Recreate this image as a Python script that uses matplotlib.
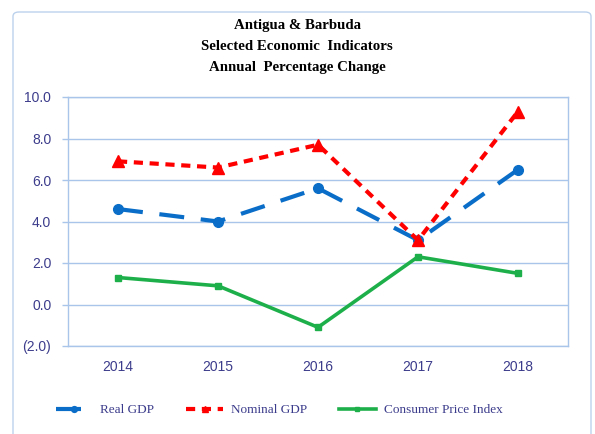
import matplotlib
matplotlib.use("Agg")
import matplotlib.pyplot as plt
from matplotlib.patches import FancyBboxPatch

years = ["2014", "2015", "2016", "2017", "2018"]
real_gdp = [4.6, 4.0, 5.6, 3.1, 6.5]
nominal_gdp = [6.9, 6.6, 7.7, 3.1, 9.3]
cpi = [1.3, 0.9, -1.1, 2.3, 1.5]
yticks = [-2, 0, 2, 4, 6, 8, 10]
ytick_labels = ["(2.0)", "0.0", "2.0", "4.0", "6.0", "8.0", "10.0"]
title_lines = ["Antigua & Barbuda", "Selected Economic  Indicators",
               "Annual  Percentage Change"]

W, H = 595, 434
fig = plt.figure(figsize=(W / 100, H / 100), dpi=100)
fig.patch.set_facecolor("white")

# outer frame
frame = FancyBboxPatch((13 / W, -0.05), (W - 17) / W, (H - 12) / H + 0.05,
                       boxstyle="round,pad=0,rounding_size=0.01",
                       transform=fig.transFigure, fill=False,
                       edgecolor="#bcd2ec", linewidth=1.0)
fig.patches.append(frame)

ax = fig.add_axes([68 / W, (H - 346) / H, (568 - 68) / W, (346 - 97) / H])
x = list(range(len(years)))

ax.plot(x, real_gdp, color="#0a6ec8", linewidth=3.0, dashes=(6, 4),
        marker="o", markersize=7, label="Real GDP", zorder=3)
ax.plot(x, nominal_gdp, color="#ff0000", linewidth=3.0, dashes=(2.2, 1.6),
        marker="^", markersize=8, label="Nominal GDP", zorder=4)
ax.plot(x, cpi, color="#1db04a", linewidth=2.6,
        marker="s", markersize=5, label="Consumer Price Index", zorder=3)

ax.set_xlim(-0.5, len(years) - 0.5)
ax.set_ylim(-2, 10)
ax.set_xticks(x)
ax.set_xticklabels(years)
ax.set_yticks(yticks)
ax.set_yticklabels(ytick_labels)
ax.yaxis.grid(True, color="#a9c6ea", linewidth=1.0)
ax.set_axisbelow(True)
for s in ax.spines.values():
    s.set_color("#a9c6ea")
    s.set_linewidth(1.0)
ax.tick_params(axis="x", length=0, labelsize=10, colors="#3c3c8c", pad=10)
ax.tick_params(axis="y", length=4, width=1.0, color="#a9c6ea",
               labelsize=10, labelcolor="#3c3c8c", pad=8, direction="out")
for t in ax.get_xticklabels() + ax.get_yticklabels():
    t.set_color("#3c3c8c")
    t.set_fontfamily("Liberation Sans")

for line, yy in zip(title_lines, [25, 46, 68]):
    fig.text(297 / W, 1 - yy / H, line, ha="center", va="center",
             fontfamily="Liberation Serif", fontweight="bold", fontsize=10.7,
             color="#000000")

leg = fig.legend(loc="center", bbox_to_anchor=(279 / W, 1 - 410 / H), ncol=3,
                 frameon=False, handlelength=2.8, columnspacing=2.4,
                 handletextpad=0.6,
                 prop={"family": "Liberation Serif", "size": 9.5},
                 markerscale=0.6)
for t in leg.get_texts():
    t.set_color("#3c3c8c")

fig.savefig("out.png", dpi=100, facecolor="white")
